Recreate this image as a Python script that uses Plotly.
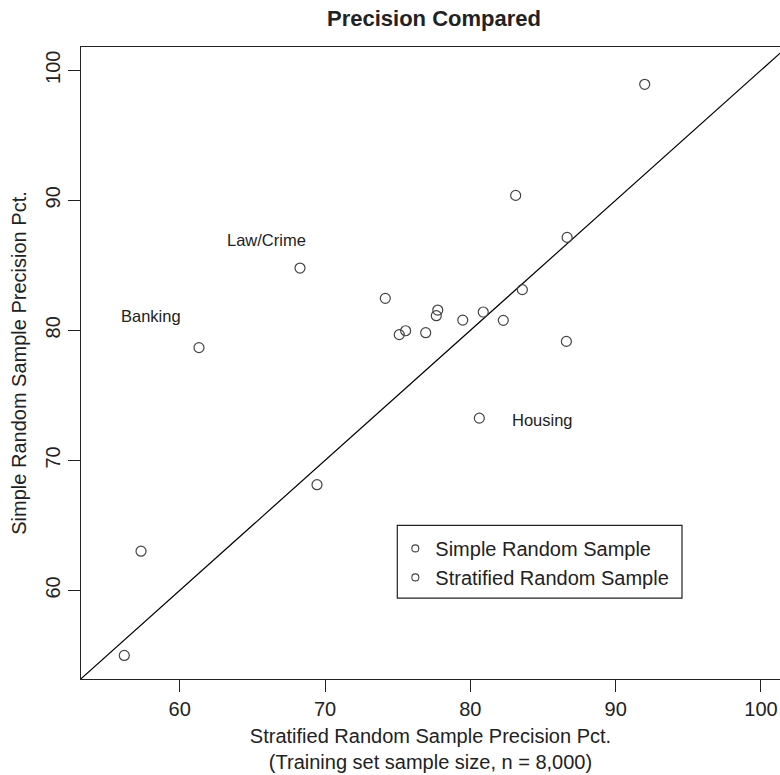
import plotly.graph_objects as go

# ---- data ----
strat_pct = [56.19, 57.34, 61.33, 68.28, 69.45, 74.15, 75.11, 75.55, 76.93, 77.66,
             77.76, 79.48, 80.89, 80.62, 82.27, 83.58, 83.12, 86.66, 86.61, 92.00]
simple_pct = [55.00, 63.02, 78.67, 84.79, 68.13, 82.46, 79.67, 79.97, 79.82, 81.13,
              81.56, 80.79, 81.41, 73.25, 80.77, 83.13, 90.38, 87.15, 79.15, 98.92]

label_text = ["Banking", "Law/Crime", "Housing"]
label_x = [55.82, 63.15, 82.75]
label_y = [81.08, 86.92, 73.08]

legend_names = ["Simple Random Sample", "Stratified Random Sample"]

x_range = [53.21, 101.31]
y_range = [53.19, 101.79]
x_ticks = [60, 70, 80, 90, 100]
y_ticks = [60, 70, 80, 90, 100]

FONT = "Liberation Sans, Arial, Helvetica, sans-serif"
INK = "#222222"
PT = "#444444"

fig = go.Figure()

# 45-degree reference line spanning the plotting region
lo = min(x_range[0], y_range[0])
hi = max(x_range[1], y_range[1])
fig.add_trace(go.Scatter(x=[lo, hi], y=[lo, hi], mode="lines",
                         line=dict(color="black", width=1.2),
                         showlegend=False, hoverinfo="skip"))

fig.add_trace(go.Scatter(x=strat_pct, y=simple_pct, mode="markers",
                         marker=dict(symbol="circle-open", size=10,
                                     color=PT, line=dict(width=1.2, color=PT)),
                         showlegend=False))

for name in legend_names:
    fig.add_trace(go.Scatter(x=[None], y=[None], mode="markers", name=name,
                             marker=dict(symbol="circle-open", size=7,
                                         color=PT, line=dict(width=1.1, color=PT))))

for t, lx, ly in zip(label_text, label_x, label_y):
    fig.add_annotation(x=lx, y=ly, text=t, showarrow=False, xanchor="left",
                       yanchor="middle", font=dict(family=FONT, size=16.5, color=INK))

# legend frame
fig.add_shape(type="rect", xref="paper", yref="paper",
              x0=0.4525, x1=0.8598, y0=0.1279, y1=0.2430,
              line=dict(color=INK, width=1.2), fillcolor="rgba(0,0,0,0)")

fig.update_layout(
    width=780, height=775,
    margin=dict(l=81, r=0, t=47, b=96),
    paper_bgcolor="white", plot_bgcolor="white",
    font=dict(family=FONT, size=20, color=INK),
    title=dict(text="<b>Precision Compared</b>", x=(434 / 780), xanchor="center",
               xref="container", yref="container", y=1 - 18 / 775, yanchor="middle",
               font=dict(family=FONT, size=22, color=INK)),
    legend=dict(x=0.4497, y=0.2375, xanchor="left", yanchor="top",
                bgcolor="rgba(0,0,0,0)", borderwidth=0,
                font=dict(family=FONT, size=20, color=INK),
                tracegroupgap=0),
    showlegend=True,
)

fig.update_xaxes(range=x_range, tickvals=x_ticks, ticks="outside", ticklen=12,
                 tickwidth=1.2, tickcolor=INK, showline=True, linecolor=INK,
                 linewidth=1.2, mirror=True, showgrid=False, zeroline=False,
                 tickfont=dict(family=FONT, size=20, color=INK),
                 title=dict(text="Stratified Random Sample Precision Pct.<br>(Training set sample size, n = 8,000)",
                            standoff=9, font=dict(family=FONT, size=20, color=INK)))
fig.update_yaxes(range=y_range, tickvals=y_ticks, ticks="outside", ticklen=12,
                 tickwidth=1.2, tickcolor=INK, showline=True, linecolor=INK,
                 linewidth=1.2, mirror=False, showgrid=False, zeroline=False,
                 tickangle=-90,
                 tickfont=dict(family=FONT, size=20, color=INK),
                 title=dict(text="Simple Random Sample Precision Pct.",
                            standoff=9, font=dict(family=FONT, size=20, color=INK)))

fig.write_html("out.html")
